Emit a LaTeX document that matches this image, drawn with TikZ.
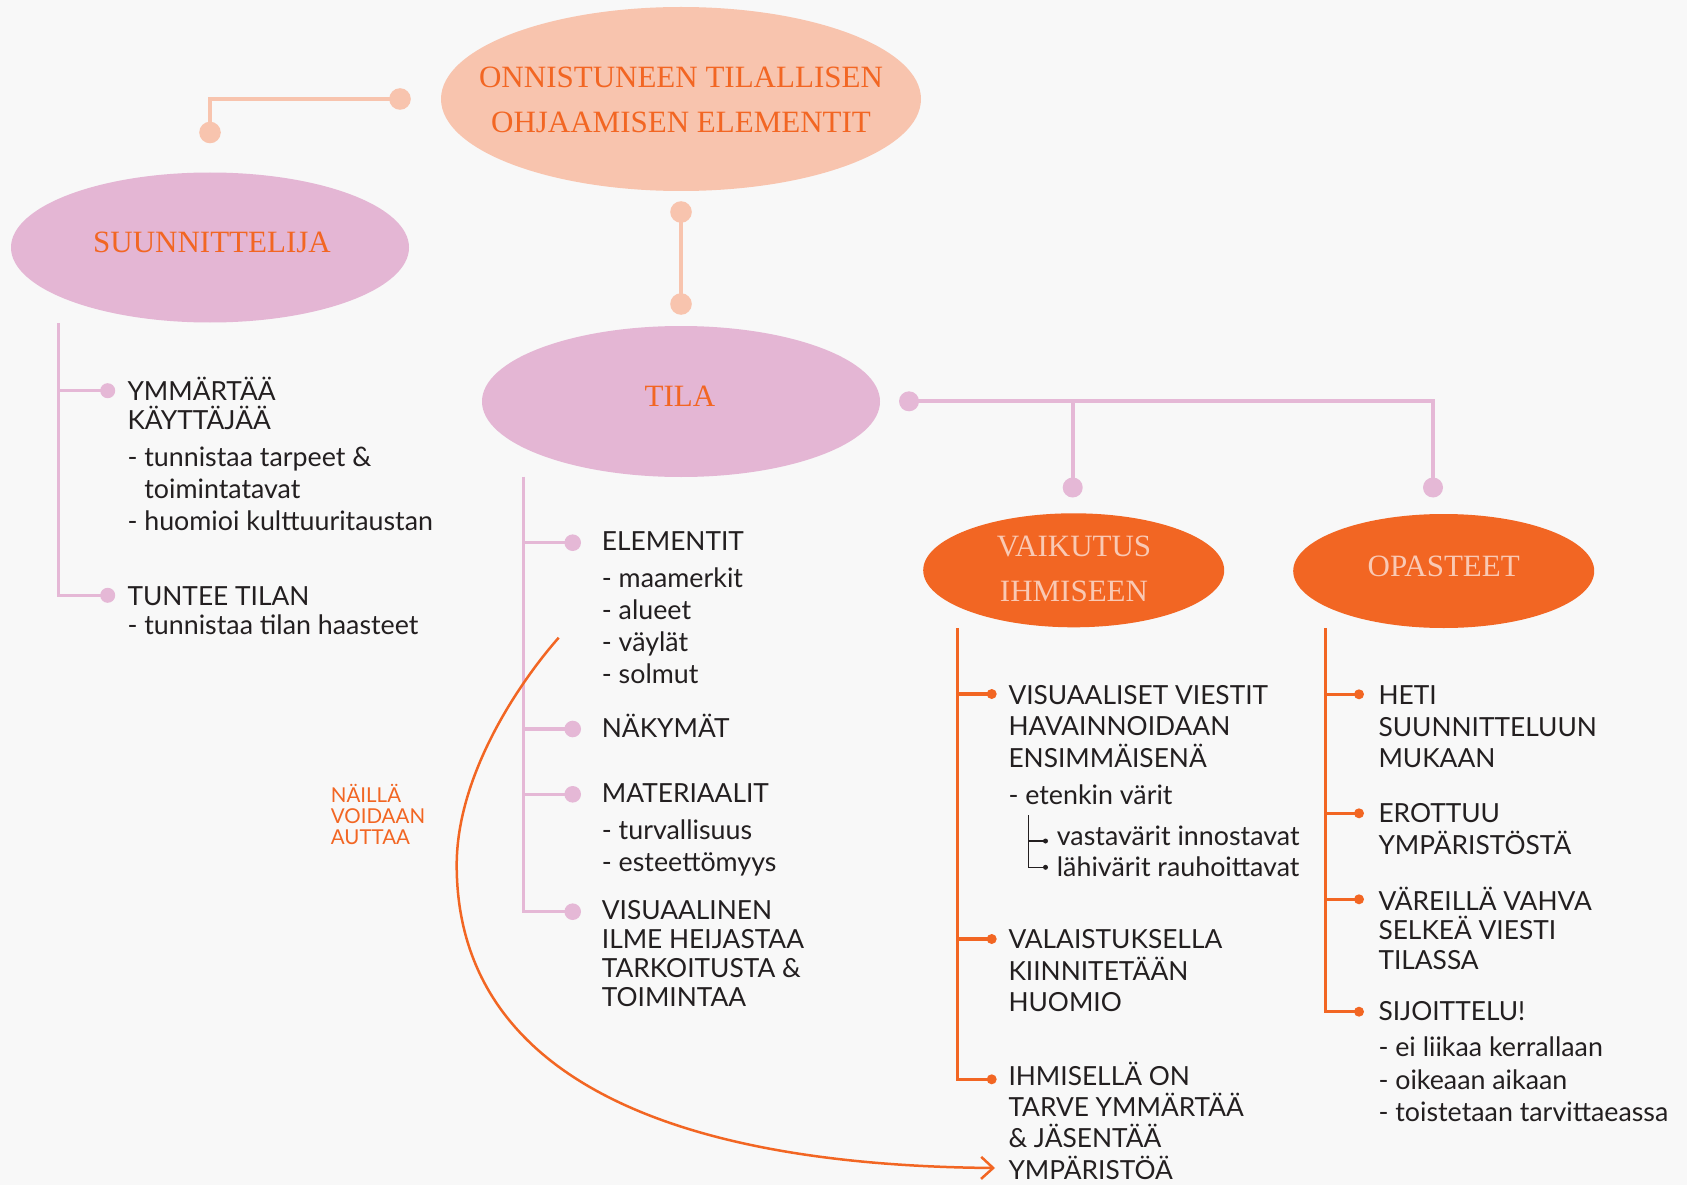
\documentclass[tikz,border=0pt]{standalone}
\usepackage{fontspec}
\setmainfont{Lato}
\newfontfamily\headfont{Liberation Serif}
\usetikzlibrary{arrows.meta,shapes.geometric}
\definecolor{bg}{RGB}{248,248,248}
\definecolor{peach}{RGB}{248,196,174}
\definecolor{rose}{RGB}{228,182,212}
\definecolor{roseline}{RGB}{229,184,214}
\definecolor{flame}{RGB}{242,102,35}
\definecolor{ink}{RGB}{35,31,32}
\definecolor{pale}{RGB}{249,201,180}
% stacked lines whose baseline is the first line, with a fixed line pitch
\newcommand\leftlines[2]{\vtop{\baselineskip=#1pt\lineskiplimit=-1000pt\lineskip=0pt\halign{##\hfil\cr#2\crcr}}}
\newcommand\midlines[2]{\vtop{\baselineskip=#1pt\lineskiplimit=-1000pt\lineskip=0pt\halign{\hfil##\hfil\cr#2\crcr}}}
\begin{document}
\begin{tikzpicture}[x=1pt,y=-1pt,
  bubble/.style={ellipse, inner sep=0pt, draw=none},
  bubbletext/.style={font=\headfont\fontsize{31}{45}\selectfont, anchor=base, inner sep=0pt},
  head/.style={font=\fontsize{26.3}{30}\selectfont, text=ink, anchor=base west, inner sep=0pt},
  sub/.style={font=\fontsize{26.8}{32}\selectfont, text=ink, anchor=base west, inner sep=0pt},
  peachdot/.style={circle, fill=peach, inner sep=0pt, minimum size=21.6pt},
  rosebig/.style={circle, fill=roseline, inner sep=0pt, minimum size=20pt},
  rosedot/.style={circle, fill=roseline, inner sep=0pt, minimum size=16.6pt},
  flamedot/.style={circle, fill=flame, inner sep=0pt, minimum size=10pt},
  inkdot/.style={circle, fill=ink, inner sep=0pt, minimum size=5pt},
  peachline/.style={draw=peach, line width=4.5pt},
  roseconn/.style={draw=roseline, line width=4.3pt},
  roselist/.style={draw=roseline, line width=3.3pt},
  flamelist/.style={draw=flame, line width=3.3pt},
  inkline/.style={draw=ink, line width=1.3pt},
]
% canvas
\fill[bg] (0,0) rectangle (1687,1185);
\useasboundingbox (0,0) rectangle (1687,1185);

% ---------- ellipses ----------
\node[bubble, fill=peach, minimum width=480pt, minimum height=184pt] (goal) at (681,99) {};
\node[bubble, fill=rose, minimum width=398pt, minimum height=150pt] (designer) at (210,247.5) {};
\node[bubble, fill=rose, minimum width=398pt, minimum height=151pt] (space) at (681,401.5) {};
\node[bubble, fill=flame, minimum width=301pt, minimum height=114pt] (impact) at (1073.7,570.3) {};
\node[bubble, fill=flame, minimum width=301pt, minimum height=114pt] (signs) at (1443.7,571) {};

\node[bubbletext, text=flame] (goaltext) at (681,87.3) {\midlines{45}{ONNISTUNEEN TILALLISEN\cr OHJAAMISEN ELEMENTIT}};
\node[bubbletext, text=flame] (designertext) at (212,253) {SUUNNITTELIJA};
\node[bubbletext, text=flame] (spacetext) at (680,406.5) {TILA};
\node[bubbletext, text=pale] (impacttext) at (1074,556.7) {\midlines{45}{VAIKUTUS\cr IHMISEEN}};
\node[bubbletext, text=pale] (signstext) at (1443.7,576.7) {OPASTEET};

% ---------- connectors between ellipses ----------
\node[peachdot] (gL) at (400,99) {};
\node[peachdot] (dT) at (210,132.5) {};
\draw[peachline] (gL.center) -| (dT.center);
\node[peachdot] (gB) at (681,212) {};
\node[peachdot] (sT) at (681,304) {};
\draw[peachline] (gB.center) -- (sT.center);

\node[rosebig] (sR) at (909,401.3) {};
\node[rosebig] (iT) at (1072.7,487.5) {};
\node[rosebig] (oT) at (1433,487.5) {};
\coordinate (sEnd) at (1433,401.3);
\draw[roseconn] (sR.center) -- (sEnd) -- (oT.center);
\draw[roseconn] (sR.center -| iT.center) -- (iT.center);

% ---------- SUUNNITTELIJA list ----------
\coordinate (dTop) at (58.5,323);
\node[rosedot, minimum size=15pt] (d1) at (107.7,390.7) {};
\node[rosedot, minimum size=15pt] (d2) at (107.7,595.3) {};
\draw[roselist] (dTop) |- (d2.center);
\draw[roselist] (dTop |- d1.center) -- (d1.center);
\node[head] (d1h) at (127.3,400) {\leftlines{29}{YMMÄRTÄÄ\cr KÄYTTÄJÄÄ}};
\node[sub] (d1s) at (127.3,466.7) {\leftlines{31.7}{- tunnistaa tarpeet \&\cr \phantom{- }toimintatavat\cr - huomioi kulttuuritaustan}};
\node[head] (d2h) at (127.3,605) {TUNTEE TILAN};
\node[sub] (d2s) at (127.3,634) {- tunnistaa tilan haasteet};

% ---------- TILA list ----------
\coordinate (sTop) at (523.5,476.7);
\node[rosedot] (s1) at (572.7,542.7) {};
\node[rosedot] (s2) at (572.7,729) {};
\node[rosedot] (s3) at (572.7,794.3) {};
\node[rosedot] (s4) at (572.7,911.7) {};
\draw[roselist] (sTop) |- (s4.center);
\foreach \n in {s1,s2,s3} \draw[roselist] (sTop |- \n.center) -- (\n.center);
\node[head] (s1h) at (601.7,550.7) {ELEMENTIT};
\node[sub] (s1s) at (601.7,587.3) {\leftlines{32}{- maamerkit\cr - alueet\cr - väylät\cr - solmut}};
\node[head] (s2h) at (601.7,737.3) {NÄKYMÄT};
\node[head] (s3h) at (601.7,802.3) {MATERIAALIT};
\node[sub] (s3s) at (601.7,839.3) {\leftlines{32.4}{- turvallisuus\cr - esteettömyys}};
\node[head] (s4h) at (601.7,919) {\leftlines{29.3}{VISUAALINEN\cr ILME HEIJASTAA\cr TARKOITUSTA \&\cr TOIMINTAA}};

% ---------- VAIKUTUS IHMISEEN list ----------
\coordinate (iTop) at (957.3,628.3);
\node[flamedot] (i1) at (991.7,694) {};
\node[flamedot] (i2) at (991.7,939) {};
\node[flamedot] (i3) at (991.7,1079.3) {};
\draw[flamelist] (iTop) |- (i3.center);
\foreach \n in {i1,i2} \draw[flamelist] (iTop |- \n.center) -- (\n.center);
\node[head] (i1h) at (1008.3,704) {\leftlines{31.8}{VISUAALISET VIESTIT\cr HAVAINNOIDAAN\cr ENSIMMÄISENÄ}};
\node[sub] (i1s) at (1008.3,804.3) {- etenkin värit};
\coordinate (tTop) at (1028.8,815);
\node[inkdot] (t1) at (1045.5,841) {};
\node[inkdot] (t2) at (1045.5,867.3) {};
\draw[inkline] (tTop) |- (t2.center);
\draw[inkline] (tTop |- t1.center) -- (t1.center);
\node[sub] (i1t) at (1056.7,845) {\leftlines{31.7}{vastavärit innostavat\cr lähivärit rauhoittavat}};
\node[head] (i2h) at (1008.3,948.3) {\leftlines{31.7}{VALAISTUKSELLA\cr KIINNITETÄÄN\cr HUOMIO}};
\node[head] (i3h) at (1008.3,1085.7) {\leftlines{31.1}{IHMISELLÄ ON\cr TARVE YMMÄRTÄÄ\cr \& JÄSENTÄÄ\cr YMPÄRISTÖÄ}};

% ---------- OPASTEET list ----------
\coordinate (oTop) at (1325.3,628.3);
\node[flamedot] (o1) at (1359,694.3) {};
\node[flamedot] (o2) at (1359,813.3) {};
\node[flamedot] (o3) at (1359,899.3) {};
\node[flamedot] (o4) at (1359,1011.7) {};
\draw[flamelist] (oTop) |- (o4.center);
\foreach \n in {o1,o2,o3} \draw[flamelist] (oTop |- \n.center) -- (\n.center);
\node[head] (o1h) at (1378.3,704.3) {\leftlines{31.7}{HETI\cr SUUNNITTELUUN\cr MUKAAN}};
\node[head] (o2h) at (1378.3,822.3) {\leftlines{31.7}{EROTTUU\cr YMPÄRISTÖSTÄ}};
\node[head] (o3h) at (1378.3,910) {\leftlines{29.7}{VÄREILLÄ VAHVA\cr SELKEÄ VIESTI\cr TILASSA}};
\node[head] (o4h) at (1378.3,1020) {SIJOITTELU!};
\node[sub] (o4s) at (1378.3,1056.7) {\leftlines{32.5}{- ei liikaa kerrallaan\cr - oikeaan aikaan\cr - toistetaan tarvittaeassa}};

% ---------- note and sweeping arrow ----------
\node[font=\fontsize{20.5}{21}\selectfont, text=flame, anchor=base west, inner sep=0pt] (help) at (330.7,802.7) {\leftlines{21}{NÄILLÄ\cr VOIDAAN\cr AUTTAA}};
\coordinate (arcStart) at (558.7,637.7);
\coordinate (arcEnd) at (995,1168);
\draw[draw=flame, line width=2.5pt, -{Straight Barb[length=12pt,width=22pt]}]
  (arcStart) .. controls (519,682.7) and (456.7,775) .. (456.7,865)
  .. controls (456.7,1060) and (640,1165) .. (arcEnd);
\end{tikzpicture}
\end{document}
